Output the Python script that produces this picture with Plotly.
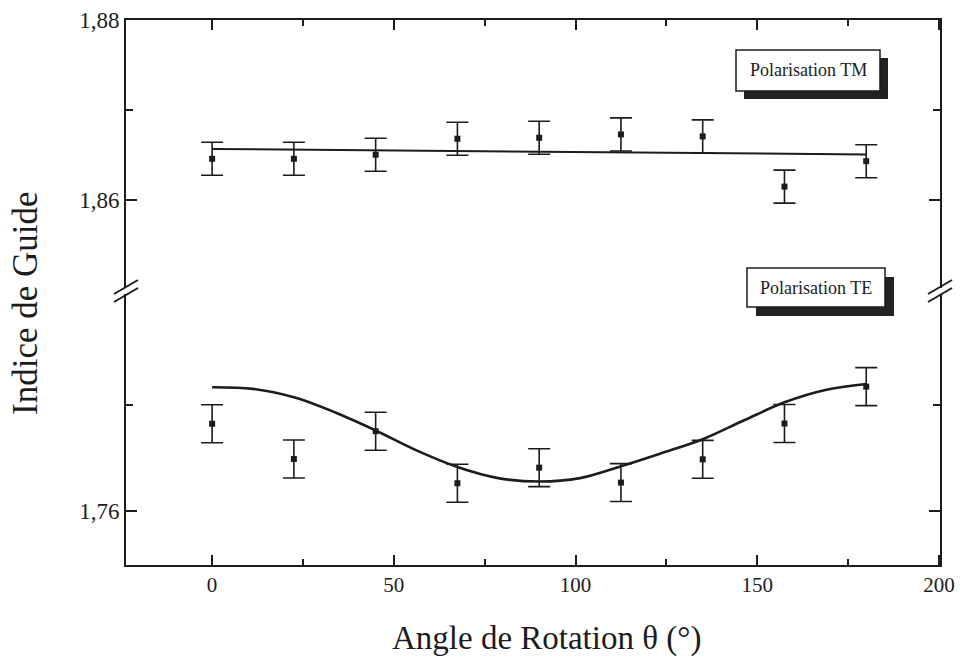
import plotly.graph_objects as go

# ---------------- data ----------------
theta = [0, 22.5, 45, 67.5, 90, 112.5, 135, 157.5, 180]
tm_index = [1.86455, 1.86455, 1.86500, 1.86678, 1.86689, 1.86726, 1.86704, 1.86145, 1.86428]
tm_err = [0.00184] * 9
te_index = [1.76820, 1.76489, 1.76750, 1.76262, 1.76408, 1.76268, 1.76486, 1.76822, 1.77168]
te_err = [0.00178] * 9

tm_fit_theta = [0, 180]
tm_fit = [1.86564, 1.86503]

te_fit_theta = [0, 11.25, 22.5, 33.75, 45, 56.25, 67.5, 78.75, 90,
                101.25, 112.5, 123.75, 135, 146.25, 157.5, 168.75, 180]
te_fit = [1.77162, 1.77147, 1.77068, 1.76928, 1.76757, 1.76570, 1.76414, 1.76310, 1.76278,
          1.76310, 1.76421, 1.76545, 1.76675, 1.76850, 1.77021, 1.77137, 1.77193]

x_ticks = [0, 50, 100, 150, 200]
x_minor = [25, 75, 125, 175]
top_ticks = [1.86, 1.88]
top_labels = ["1,86", "1,88"]
top_minor = [1.87]
bot_ticks = [1.76]
bot_labels = ["1,76"]
bot_minor = [1.77]

INK = "#1c1c1c"
FONT = "Liberation Serif, Times New Roman, serif"

# ---------------- geometry (pixels) ----------------
W, H = 960, 658
L, R, T, B = 126, 940, 20, 565
BREAK = 291
split = (B - BREAK) / (B - T)


def px(x):
    return (x - L) / (R - L)


def py(y):
    return 1 - (y - T) / (B - T)


fig = go.Figure()

# TM (top panel)
fig.add_trace(go.Scatter(x=tm_fit_theta, y=tm_fit, mode="lines",
                         line=dict(color=INK, width=2), xaxis="x2", yaxis="y2",
                         showlegend=False, hoverinfo="skip"))
fig.add_trace(go.Scatter(x=theta, y=tm_index, mode="markers",
                         marker=dict(symbol="square", size=6, color=INK),
                         error_y=dict(type="data", array=tm_err, visible=True,
                                      color=INK, thickness=1.6, width=11),
                         xaxis="x2", yaxis="y2", showlegend=False))

# TE (bottom panel)
fig.add_trace(go.Scatter(x=te_fit_theta, y=te_fit, mode="lines",
                         line=dict(color=INK, width=2.6, shape="spline", smoothing=1.0),
                         xaxis="x", yaxis="y", showlegend=False, hoverinfo="skip"))
fig.add_trace(go.Scatter(x=theta, y=te_index, mode="markers",
                         marker=dict(symbol="square", size=6, color=INK),
                         error_y=dict(type="data", array=te_err, visible=True,
                                      color=INK, thickness=1.6, width=11),
                         xaxis="x", yaxis="y", showlegend=False))

xrange = [-23.7, 200.3]
xtickfont = dict(family=FONT, size=21, color=INK)
ytickfont = dict(family=FONT, size=23, color=INK)

common_x = dict(range=xrange, showgrid=False, zeroline=False, showline=True,
                linecolor=INK, linewidth=2, ticks="inside", ticklen=10,
                tickwidth=1.6, tickcolor=INK, tickmode="array", tickvals=x_ticks,
                automargin=False,
                minor=dict(tickmode="array", tickvals=x_minor, ticks="inside",
                           ticklen=6, tickwidth=1.6, tickcolor=INK))

common_y = dict(showgrid=False, zeroline=False, showline=True, mirror="ticks",
                linecolor=INK, linewidth=2, ticks="inside", ticklen=11,
                tickwidth=1.6, tickcolor=INK, tickmode="array", automargin=False,
                tickfont=ytickfont, ticklabelstandoff=0)

fig.update_layout(
    width=W, height=H,
    margin=dict(l=L, r=W - R, t=T, b=H - B, autoexpand=False),
    paper_bgcolor="white", plot_bgcolor="white",
    xaxis=dict(**common_x, domain=[0, 1], anchor="y", side="bottom",
               ticktext=[str(v) for v in x_ticks], tickfont=xtickfont,
               ticklabelstandoff=0),
    xaxis2=dict(**common_x, domain=[0, 1], anchor="y2", side="top",
                matches="x", showticklabels=False),
    yaxis=dict(**common_y, domain=[0, split], range=[1.75495, 1.78065], anchor="x",
               tickvals=bot_ticks, ticktext=bot_labels,
               minor=dict(tickmode="array", tickvals=bot_minor, ticks="inside",
                          ticklen=7, tickwidth=1.6, tickcolor=INK)),
    yaxis2=dict(**common_y, domain=[split, 1], range=[1.84983, 1.88], anchor="x2",
                tickvals=top_ticks, ticktext=top_labels,
                minor=dict(tickmode="array", tickvals=top_minor, ticks="inside",
                           ticklen=7, tickwidth=1.6, tickcolor=INK)),
)

shapes = []
# axis break marks on left and right axis
for xa in (0, 1):
    shapes.append(dict(type="rect", xref="paper", yref="paper",
                       xsizemode="pixel", ysizemode="pixel",
                       xanchor=xa, yanchor=split, x0=-3, x1=3, y0=-3, y1=3,
                       fillcolor="white", line=dict(width=0), layer="above"))
    for off in (4, -4):
        shapes.append(dict(type="line", xref="paper", yref="paper",
                           xsizemode="pixel", ysizemode="pixel",
                           xanchor=xa, yanchor=split,
                           x0=-12, x1=12, y0=-7 + off, y1=7 + off,
                           line=dict(color=INK, width=2), layer="above"))

# label boxes with drop shadows
boxes = [("Polarisation TM", 736, 880, 50, 91, 8),
         ("Polarisation TE", 747, 885, 268, 307, 9)]
annotations = []
for text, x0, x1, y0, y1, sh in boxes:
    shapes.append(dict(type="rect", xref="paper", yref="paper",
                       x0=px(x0 + sh), x1=px(x1 + sh), y0=py(y1 + sh), y1=py(y0 + sh),
                       fillcolor="#222222", line=dict(width=0), layer="above"))
    shapes.append(dict(type="rect", xref="paper", yref="paper",
                       x0=px(x0), x1=px(x1), y0=py(y1), y1=py(y0),
                       fillcolor="white", line=dict(color=INK, width=1.5), layer="above"))
    annotations.append(dict(text=text, xref="paper", yref="paper",
                            x=px((x0 + x1) / 2), y=py((y0 + y1) / 2),
                            xanchor="center", yanchor="middle", showarrow=False,
                            font=dict(family=FONT, size=18, color=INK)))

annotations.append(dict(text="Indice de Guide", xref="paper", yref="paper",
                        x=px(25), y=py(303), xanchor="center", yanchor="middle",
                        textangle=-90, showarrow=False,
                        font=dict(family=FONT, size=35, color=INK)))
annotations.append(dict(text="Angle de Rotation θ (°)", xref="paper", yref="paper",
                        x=px(546), y=py(638), xanchor="center", yanchor="middle",
                        showarrow=False,
                        font=dict(family=FONT, size=33, color=INK)))

fig.update_layout(shapes=shapes, annotations=annotations)

fig.write_html("out.html", config={"displayModeBar": False},
               post_script="document.body.style.margin='0';document.body.style.overflow='hidden';")
